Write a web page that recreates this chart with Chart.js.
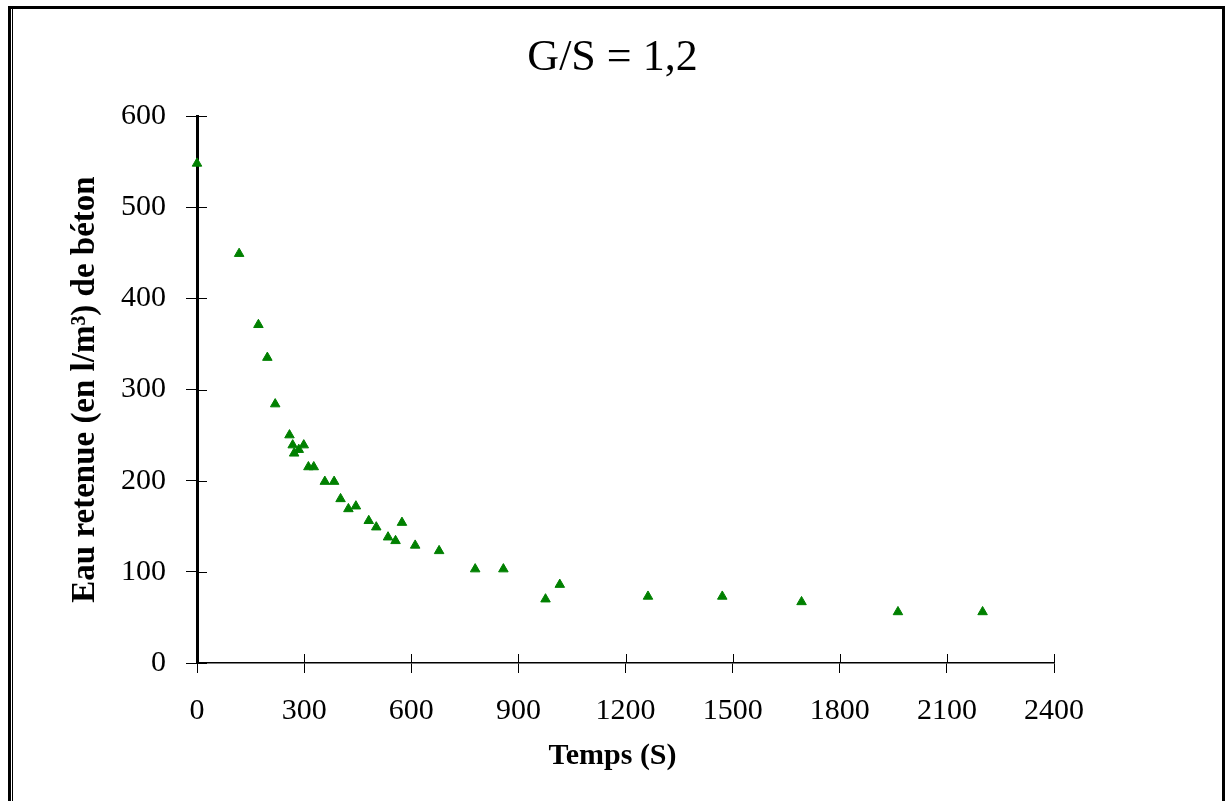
<!DOCTYPE html>
<html>
<head>
<meta charset="utf-8">
<script src="https://cdn.jsdelivr.net/npm/chart.js@4.4.1/dist/chart.umd.min.js"></script>
<style>
html,body{margin:0;padding:0;background:#fff;overflow:hidden}
#wrap{width:1225px;height:801px;position:relative}
</style>
</head>
<body>
<div id="wrap"><canvas id="c" width="1225" height="801"></canvas></div>
<script>
// ---- data ----
const chartTitle = 'G/S = 1,2';
const xAxisTitle = 'Temps (S)';
const yAxisTitle = 'Eau retenue (en l/m³) de béton';
const timeSeconds   = [0, 118, 172, 197, 219, 259, 268, 272, 285, 299, 312, 327, 358, 384, 402, 424, 445, 481, 502, 535, 556, 574, 611, 678, 779, 858, 976, 1016, 1263, 1471, 1693, 1963, 2200];
const waterRetained = [548, 449, 371, 335, 284, 250, 239, 230, 234, 239, 215, 215, 199, 199, 180, 169, 172, 156, 149, 138, 134, 154, 129, 123, 103, 103, 70, 86, 73, 73, 67, 56, 56];
const xTickValues = [0, 300, 600, 900, 1200, 1500, 1800, 2100, 2400];
const yTickValues = [0, 100, 200, 300, 400, 500, 600];

const points = timeSeconds.map((t, i) => ({x: t, y: waterRetained[i]}));

const serif = "'Liberation Serif', 'Times New Roman', serif";

const innerTicks = {
  id: 'innerTicks',
  beforeDatasetsDraw(chart) {
    const {ctx, chartArea: a} = chart;
    const xs = chart.scales.x, ys = chart.scales.y;
    ctx.save();
    ctx.strokeStyle = '#000';
    ctx.lineWidth = 1;
    xs.ticks.forEach(t => {
      const px = Math.round(xs.getPixelForValue(t.value)) + 0.5;
      ctx.beginPath(); ctx.moveTo(px, a.bottom); ctx.lineTo(px, a.bottom - 9); ctx.stroke();
    });
    ys.ticks.forEach(t => {
      const py = Math.round(ys.getPixelForValue(t.value)) + 0.5;
      ctx.beginPath(); ctx.moveTo(a.left, py); ctx.lineTo(a.left + 10, py); ctx.stroke();
    });
    ctx.restore();
  }
};

const frame = {
  id: 'frame',
  afterDraw(chart) {
    const ctx = chart.ctx;
    ctx.save();
    ctx.fillStyle = '#000';
    ctx.fillRect(8, 6, 1217, 3);   // top
    ctx.fillRect(8, 6, 3, 795);    // left outer
    ctx.fillRect(12, 9, 1, 792);   // left inner
    ctx.fillRect(1222, 6, 3, 795); // right
    ctx.restore();
  }
};

new Chart(document.getElementById('c'), {
  type: 'scatter',
  data: {
    datasets: [{
      label: 'Eau retenue',
      data: points,
      pointStyle: 'triangle',
      pointRadius: 5.5,
      pointHoverRadius: 5.5,
      backgroundColor: '#008000',
      borderColor: '#008000',
      borderWidth: 1,
      clip: false
    }]
  },
  options: {
    responsive: false,
    animation: false,
    events: [],
    layout: {padding: {left: 0, right: 0, top: 0, bottom: 0}},
    plugins: {
      legend: {display: false},
      tooltip: {enabled: false},
      title: {
        display: true,
        text: chartTitle,
        color: '#000',
        font: {family: serif, size: 44, weight: 'normal', lineHeight: 1.2},
        padding: {top: 32, bottom: 31.2}
      },
      subtitle: {
        display: true,
        position: 'bottom',
        text: xAxisTitle,
        color: '#000',
        font: {family: serif, size: 30, weight: 'bold', lineHeight: 1.2},
        padding: {top: 0, bottom: 27}
      }
    },
    scales: {
      x: {
        type: 'linear',
        min: 0, max: 2400,
        afterBuildTicks: s => { s.ticks = xTickValues.map(v => ({value: v})); },
        afterFit: s => { s.height = 75; },
        grid: {display: true, drawOnChartArea: false, drawTicks: true, tickLength: 10, color: '#000', lineWidth: 1},
        border: {display: true, color: '#000', width: 1.5},
        ticks: {color: '#000', font: {family: serif, size: 30}, padding: 20, maxRotation: 0, autoSkip: false,
                callback: v => String(v)},
        title: {display: false}
      },
      y: {
        type: 'linear',
        min: 0, max: 600,
        afterBuildTicks: s => { s.ticks = yTickValues.map(v => ({value: v})); },
        afterFit: s => { s.width = 197; },
        grid: {display: true, drawOnChartArea: false, drawTicks: true, tickLength: 11, color: '#000', lineWidth: 1},
        border: {display: true, color: '#000', width: 3},
        ticks: {color: '#000', font: {family: serif, size: 30}, padding: 20, autoSkip: false,
                callback: v => String(v)},
        title: {display: true, text: yAxisTitle, color: '#000', font: {family: serif, size: 33, weight: 'bold', lineHeight: 1.2}, padding: {top: 66, bottom: 0}}
      },
      yRight: {
        type: 'linear',
        position: 'right',
        display: true,
        grid: {display: false, drawTicks: false},
        border: {display: false},
        ticks: {display: false},
        afterFit: s => { s.width = 171; }
      }
    }
  },
  plugins: [innerTicks, frame]
});
</script>
</body>
</html>
